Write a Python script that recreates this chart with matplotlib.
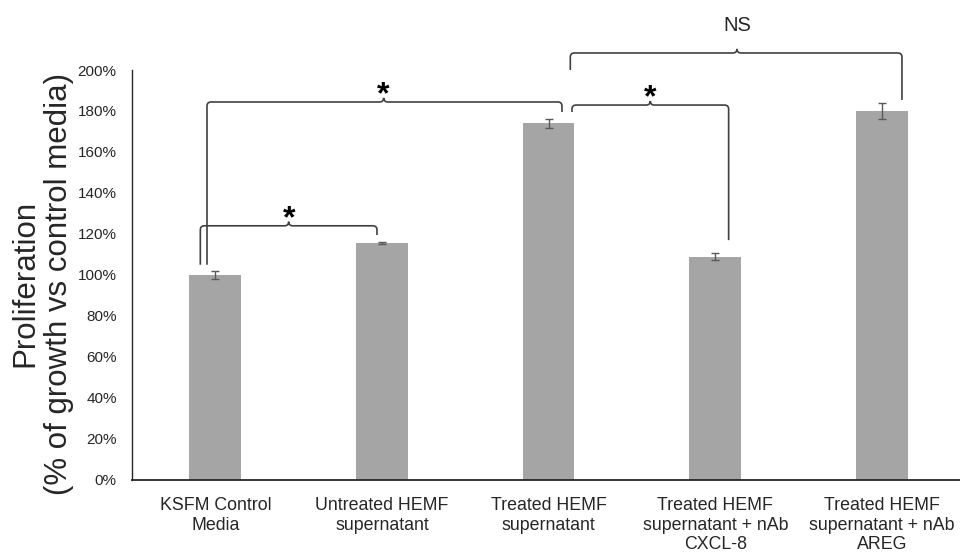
import matplotlib
matplotlib.use("Agg")
import matplotlib.pyplot as plt
from matplotlib.path import Path
from matplotlib.patches import PathPatch

plt.rcParams["font.family"] = ["Liberation Sans", "DejaVu Sans"]

# ── Data ─────────────────────────────────────────────────────────────────────
groups = [
    "KSFM Control\nMedia",
    "Untreated HEMF\nsupernatant",
    "Treated HEMF\nsupernatant",
    "Treated HEMF\nsupernatant + nAb\nCXCL-8",
    "Treated HEMF\nsupernatant + nAb\nAREG",
]
prolif = [100.0, 115.5, 174.0, 109.0, 180.0]     # % of control growth
prolif_err = [1.8, 0.5, 2.3, 1.6, 3.7]
yticks = [0, 20, 40, 60, 80, 100, 120, 140, 160, 180, 200]

# significance brackets: (left x, right x, bar y, left leg end, right leg end, peak x, label)
brackets = [
    (-0.09, 0.97, 124.0, 105.0, 119.5, 0.44, "*"),
    (-0.05, 2.08, 184.4, 105.0, 179.5, 1.01, "*"),
    (2.14, 3.08, 182.9, 179.5, 117.0, 2.61, "*"),
    (2.13, 4.12, 208.3, 200.0, 185.4, 3.13, "NS"),
]

BAR_COLOR = "#a5a5a5"
LINE_COLOR = "#404040"


def brace(ax, x0, x1, y, y0_end, y1_end, xm, rx=0.025, ry=2.0):
    """Excel-style curly bracket: rounded ends dropping to the bars, cusp at xm."""
    verts = [
        (x0, y0_end), (x0, y - ry),
        (x0, y), (x0 + rx, y),
        (xm - rx, y),
        (xm, y), (xm, y + ry),
        (xm, y), (xm + rx, y),
        (x1 - rx, y),
        (x1, y), (x1, y - ry),
        (x1, y1_end),
    ]
    codes = [
        Path.MOVETO, Path.LINETO,
        Path.CURVE3, Path.CURVE3,
        Path.LINETO,
        Path.CURVE3, Path.CURVE3,
        Path.CURVE3, Path.CURVE3,
        Path.LINETO,
        Path.CURVE3, Path.CURVE3,
        Path.LINETO,
    ]
    patch = PathPatch(Path(verts, codes), facecolor="none", edgecolor=LINE_COLOR,
                      lw=1.2, clip_on=False)
    ax.add_patch(patch)


fig = plt.figure(figsize=(9.6, 5.56), dpi=100)
ax = fig.add_axes([0.1375, 0.1367, 0.868, 0.7374])

x = list(range(len(groups)))
ax.bar(x, prolif, width=0.31, color=BAR_COLOR, zorder=2)
ax.errorbar(x, prolif, yerr=prolif_err, fmt="none", ecolor="#595959",
            elinewidth=1.0, capsize=3, capthick=1.0, zorder=3)

ax.set_xlim(-0.5, 4.5)
ax.set_ylim(0, 200)
ax.set_yticks(yticks)
ax.set_yticklabels([f"{v}%" for v in yticks])
ax.set_xticks(x)
ax.set_xticklabels(groups, linespacing=1.22)
ax.tick_params(axis="y", length=0, pad=11, labelsize=11, labelcolor="#262626")
ax.tick_params(axis="x", length=0, pad=12, labelsize=12.8, labelcolor="#262626")

for side in ("top", "right"):
    ax.spines[side].set_visible(False)
ax.spines["bottom"].set_color("#262626")
ax.spines["bottom"].set_linewidth(1.3)
ax.spines["left"].set_color("#262626")
ax.spines["left"].set_linewidth(1.0)

for x0, x1, y, e0, e1, xm, lab in brackets:
    brace(ax, x0, x1, y, e0, e1, xm)
    if lab == "*":
        ax.text(xm, y - 4.0, lab, ha="center", va="bottom", fontsize=23,
                fontweight="bold", color="black", clip_on=False)
    else:
        ax.text(xm, y + 9, lab, ha="center", va="bottom", fontsize=14.5,
                color="#262626", clip_on=False)

fig.text(0.044, 0.49, "Proliferation\n(% of growth vs control media)",
         rotation=90, ha="center", va="center", multialignment="center",
         fontsize=22.5, color="#262626", linespacing=1.15)

fig.savefig("out.png", dpi=100)
